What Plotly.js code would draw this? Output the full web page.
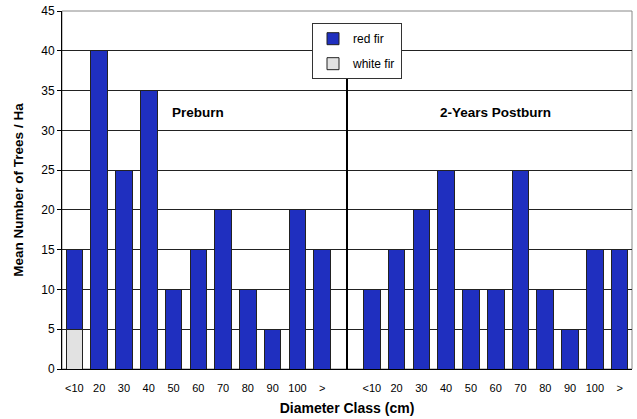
<!DOCTYPE html>
<html>
<head>
<meta charset="utf-8">
<script src="https://cdn.plot.ly/plotly-3.0.1.min.js"></script>
<style>html,body{margin:0;padding:0;background:#fff;}#chart{width:637px;height:419px;}</style>
</head>
<body>
<div id="chart"></div>
<script>
const categories = ['<10','20','30','40','50','60','70','80','90','100','>'];
const redFirPre = [10,40,25,35,10,15,20,10,5,20,15];
const whiteFirPre = [5,0,0,0,0,0,0,0,0,0,0];
const redFirPost = [10,15,20,25,10,10,25,10,5,15,15];
const whiteFirPost = [0,0,0,0,0,0,0,0,0,0,0];
const groupLabels = ['Preburn','2-Years Postburn'];

const n = categories.length;
const xPre = categories.map((c,i)=>i);
const xPost = categories.map((c,i)=>i+n+1);
const xAll = xPre.concat(xPost);
const toNull = v => v === 0 ? null : v;

const blue = '#1f2fbf';
const grey = '#e2e2e2';
const outline = '#222';

const traces = [
  {type:'bar', name:'white fir', x:xAll, y:whiteFirPre.concat(whiteFirPost).map(toNull),
   marker:{color:grey, line:{color:outline, width:1}}, legendgroup:'w', legendrank:2},
  {type:'bar', name:'red fir', x:xAll, y:redFirPre.concat(redFirPost),
   marker:{color:blue, line:{color:outline, width:1}}, legendgroup:'r', legendrank:1}
];

const font = {family:'Liberation Sans, Arial, sans-serif', color:'#000'};

const layout = {
  width:637, height:419,
  margin:{l:62, r:5, t:11, b:50},
  paper_bgcolor:'#fff', plot_bgcolor:'#fff',
  barmode:'stack', bargap:0.33,
  font:Object.assign({size:11}, font),
  showlegend:true,
  legend:{x:0.4386, y:0.966, xanchor:'left', yanchor:'top', bgcolor:'#fff',
    bordercolor:'#333', borderwidth:1, traceorder:'grouped', tracegroupgap:6,
    itemwidth:30,
    font:Object.assign({size:12}, font)},
  xaxis:{range:[-0.5, 2*n+0.5], tickmode:'array', tickvals:xAll,
    ticktext:categories.concat(categories), ticks:'outside', ticklen:9,
    tickcolor:'rgba(0,0,0,0)', tickfont:Object.assign({size:11}, font),
    showline:true, linecolor:'#000', linewidth:1, showgrid:false, zeroline:false,
    title:{text:'<b>Diameter Class (cm)</b>', font:Object.assign({size:14}, font), standoff:9}},
  yaxis:{range:[0,45], dtick:5, ticks:'outside', ticklen:4, tickcolor:'#000',
    tickfont:Object.assign({size:12}, font),
    showline:true, linecolor:'#000', linewidth:1, showgrid:true, gridcolor:'#222', gridwidth:1,
    zeroline:false,
    title:{text:'<b>Mean Number of Trees / Ha</b>', font:Object.assign({size:13.5}, font), standoff:14}},
  shapes:[
    {type:'rect', xref:'paper', yref:'paper', x0:0, x1:1, y0:0, y1:1, line:{color:'#888', width:1}, layer:'below'},
    {type:'line', xref:'x', yref:'y', x0:n, x1:n, y0:0, y1:42, line:{color:'#000', width:2}}
  ],
  annotations:[
    {xref:'x', yref:'y', x:(n-1)/2, y:32.3, text:'<b>'+groupLabels[0]+'</b>', showarrow:false,
     font:Object.assign({size:13.5}, font)},
    {xref:'x', yref:'y', x:n+1+(n-1)/2, y:32.3, text:'<b>'+groupLabels[1]+'</b>', showarrow:false,
     font:Object.assign({size:13.5}, font)}
  ]
};

Plotly.newPlot('chart', traces, layout, {displayModeBar:false, staticPlot:true});
</script>
</body>
</html>
